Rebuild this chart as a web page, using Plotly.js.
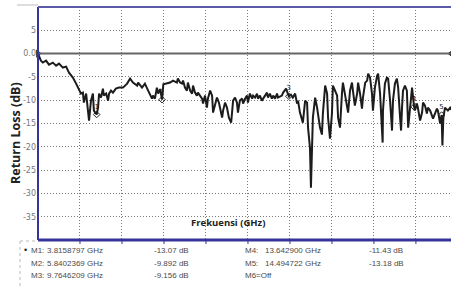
<!DOCTYPE html>
<html>
<head>
<meta charset="utf-8">
<script src="https://cdn.plot.ly/plotly-3.0.1.min.js"></script>
<style>html,body{margin:0;padding:0;background:#fff;}#chart{width:451px;height:289px;}</style>
</head>
<body>
<div id="chart"></div>
<script>
// Frequency (GHz) and return loss (dB)
var freq = [2.00,2.09,2.15,2.25,2.34,2.46,2.56,2.65,2.77,2.87,2.96,3.08,3.18,3.27,3.33,3.39,3.42,3.49,3.55,3.58,3.64,3.70,3.73,3.816,3.86,3.89,3.95,4.01,4.04,4.11,4.17,4.20,4.26,4.32,4.41,4.51,4.63,4.76,4.85,4.94,5.07,5.10,5.22,5.31,5.41,5.53,5.56,5.62,5.68,5.72,5.78,5.84,5.88,5.99,6.09,6.18,6.30,6.33,6.40,6.46,6.49,6.55,6.61,6.64,6.71,6.77,6.80,6.86,6.92,6.95,7.08,7.11,7.17,7.23,7.26,7.33,7.39,7.42,7.48,7.54,7.60,7.70,7.73,7.79,7.85,7.91,7.98,8.04,8.10,8.16,8.19,8.25,8.32,8.35,8.41,8.47,8.50,8.56,8.63,8.66,8.72,8.78,8.81,8.87,8.93,8.97,9.03,9.09,9.12,9.18,9.24,9.28,9.34,9.40,9.43,9.55,9.59,9.68,9.765,9.83,9.89,9.96,10.02,10.05,10.11,10.17,10.20,10.27,10.33,10.36,10.42,10.45,10.48,10.51,10.58,10.64,10.73,10.79,10.82,10.89,10.95,10.98,11.04,11.10,11.13,11.26,11.29,11.35,11.41,11.44,11.50,11.57,11.60,11.66,11.72,11.75,11.81,11.88,11.91,11.97,12.03,12.06,12.13,12.19,12.22,12.28,12.34,12.37,12.43,12.50,12.53,12.59,12.65,12.67,12.68,12.74,12.80,12.84,12.90,12.96,12.99,13.05,13.11,13.15,13.21,13.24,13.27,13.30,13.36,13.42,13.46,13.52,13.58,13.643,13.67,13.73,13.76,13.83,13.89,13.92,13.98,14.04,14.07,14.14,14.20,14.23,14.29,14.35,14.38,14.45,14.495,14.52,14.55,14.60,14.69,14.76,14.82];
var returnLoss = [0.0,-1.50,-1.93,-1.50,-2.36,-1.93,-2.58,-2.15,-3.00,-2.79,-4.08,-5.15,-6.44,-7.94,-8.58,-8.37,-10.52,-8.58,-13.30,-14.38,-10.09,-8.58,-12.23,-13.07,-11.59,-8.58,-9.44,-7.51,-9.01,-8.58,-10.09,-8.58,-7.94,-8.37,-7.51,-7.30,-7.30,-6.44,-5.36,-6.22,-6.87,-6.22,-7.30,-6.44,-7.94,-9.66,-9.01,-9.66,-7.30,-8.58,-7.60,-9.89,-6.60,-6.44,-6.22,-5.79,-6.22,-5.36,-6.22,-6.44,-5.79,-7.30,-7.94,-6.22,-7.94,-8.58,-6.87,-8.37,-9.01,-8.37,-9.66,-10.73,-9.01,-11.59,-9.66,-7.94,-9.01,-12.66,-11.16,-9.44,-10.52,-13.73,-12.23,-10.52,-11.59,-13.73,-14.81,-10.09,-9.44,-10.52,-12.66,-10.09,-9.66,-10.73,-9.66,-9.01,-10.52,-8.58,-9.66,-9.01,-9.44,-8.58,-9.66,-9.01,-10.09,-9.66,-9.01,-8.37,-9.44,-8.58,-9.66,-9.01,-9.66,-8.58,-9.44,-9.01,-8.37,-7.50,-9.16,-8.80,-9.44,-8.58,-10.73,-10.09,-12.66,-14.38,-14.81,-10.09,-10.52,-15.88,-20.17,-28.76,-20.17,-13.73,-9.44,-11.59,-15.88,-17.38,-12.88,-6.87,-8.58,-13.73,-18.24,-12.88,-6.87,-9.01,-13.73,-15.88,-8.58,-6.22,-8.58,-11.80,-12.66,-7.94,-6.22,-7.94,-11.16,-8.58,-6.22,-8.58,-11.80,-9.44,-6.22,-5.79,-4.29,-5.15,-8.58,-12.23,-7.30,-4.72,-4.29,-8.58,-15.88,-19.10,-12.23,-6.44,-5.15,-5.36,-10.09,-16.52,-10.09,-6.44,-5.36,-7.30,-13.73,-16.52,-11.59,-7.94,-6.87,-7.94,-15.88,-11.59,-7.30,-11.43,-12.23,-10.73,-11.59,-14.38,-12.66,-10.52,-11.16,-12.88,-11.59,-12.23,-13.30,-13.95,-12.88,-11.80,-12.23,-15.02,-13.18,-19.74,-13.73,-11.59,-12.23,-11.59,-12.20];

// Markers
var markerFreq = [3.8158797, 5.8402369, 9.7646209, 13.6429, 14.494722];
var markerRL = [-13.07, -9.892, -9.156, -11.43, -13.18];
var markerLabels = ["1", "2", "3", "4", "5"];

// Y ticks
var yTickVals = [5, 0, -5, -10, -15, -20, -25, -30, -35];
var yTickText = ["5", "0.0", "-5", "-10", "-15", "-20", "-25", "-30", "-35"];

// X grid
var xGridVals = [3.3, 4.6, 5.9, 7.2, 8.5, 9.8, 11.1, 12.4, 13.7];

// Marker table
var tableNames1 = ["M1:", "M2:", "M3:"];
var tableFreq1 = ["3.8158797 GHz", "5.8402369 GHz", "9.7646209 GHz"];
var tableVal1 = ["-13.07 dB", "-9.892 dB", "-9.156 dB"];
var tableNames2 = ["M4:", "M5:", "M6=Off"];
var tableFreq2 = ["13.642900 GHz", "14.494722 GHz", ""];
var tableVal2 = ["-11.43 dB", "-13.18 dB", ""];

var X0 = 2, X1 = 14.786;
var W = 413, H = 233;
function px2paperX(px){ return (px - 38) / W; }
function py2paperY(py){ return (240 - py) / H; }

var traces = [
  {x: freq, y: returnLoss, type: 'scatter', mode: 'lines',
   line: {color: '#1c1c1c', width: 2}, hoverinfo: 'skip'},
  {x: markerFreq, y: markerRL, type: 'scatter', mode: 'markers+text',
   text: markerLabels, textposition: 'top center',
   textfont: {family: 'DejaVu Sans', size: 7, color: '#222'},
   marker: {symbol: 'diamond-open', size: 5, color: '#222', line: {width: 1}},
   cliponaxis: false},
  {x: [X0, X1], y: [0, 0], type: 'scatter', mode: 'markers',
   marker: {symbol: ['triangle-right', 'triangle-left'], size: 7, color: '#111'},
   cliponaxis: false}
];

var annotations = [];
var rowsY = [250, 263, 275];
var tf = {family: 'Liberation Sans', size: 8, color: '#4a4a4a'};
for (var i = 0; i < 3; i++) {
  var yy = py2paperY(rowsY[i]);
  var cols = [[29, tableNames1[i]], [45, tableFreq1[i]], [152, tableVal1[i]],
              [243, tableNames2[i]], [263, tableFreq2[i]], [367, tableVal2[i]]];
  cols.forEach(function(c){
    if (c[1]) annotations.push({xref: 'paper', yref: 'paper', x: px2paperX(c[0]), y: yy,
      xanchor: 'left', yanchor: 'middle', showarrow: false, text: c[1], font: tf});
  });
}
// bullet in front of M1
annotations.push({xref: 'paper', yref: 'paper', x: px2paperX(29), y: py2paperY(250),
  xanchor: 'right', yanchor: 'middle', showarrow: false, text: '\u2022',
  font: {family: 'Liberation Sans', size: 9, color: '#222'}});
annotations.push({xref: 'paper', yref: 'paper', x: px2paperX(15), y: py2paperY(133),
  xanchor: 'center', yanchor: 'middle', textangle: -90, showarrow: false,
  text: '<b>Return Loss (dB)</b>', font: {family: 'Open Sans', size: 12.5, color: '#222'}});
annotations.push({xref: 'paper', yref: 'paper', x: px2paperX(228), y: py2paperY(222),
  xanchor: 'center', yanchor: 'middle', showarrow: false,
  text: '<b>Frekuensi (GHz)</b>', font: {family: 'Open Sans', size: 9.5, color: '#222'}});

var shapes = [
  // zero reference line
  {type: 'line', xref: 'paper', yref: 'y', x0: 0, x1: 1, y0: 0, y1: 0, line: {color: '#666', width: 2}},
  // frame
  {type: 'line', xref: 'paper', yref: 'paper', x0: 0, x1: 0, y0: 0, y1: 1, line: {color: '#34349a', width: 2}},
  {type: 'line', xref: 'paper', yref: 'paper', x0: 0, x1: 1, y0: 1, y1: 1, line: {color: '#5a5aa8', width: 2}},
  {type: 'line', xref: 'paper', yref: 'paper', x0: 0, x1: 1, y0: 0, y1: 0, line: {color: '#34349a', width: 3}},
  // top-left grey line
  {type: 'line', xref: 'paper', yref: 'paper', x0: px2paperX(17), x1: 0, y0: py2paperY(5), y1: py2paperY(5), line: {color: '#bbb', width: 1}},
  // marker-table dotted box
  {type: 'line', xref: 'paper', yref: 'paper', x0: px2paperX(20), x1: 0, y0: py2paperY(241), y1: py2paperY(241), line: {color: '#bbb', width: 1, dash: 'dot'}},
  {type: 'line', xref: 'paper', yref: 'paper', x0: px2paperX(20), x1: px2paperX(20), y0: py2paperY(241), y1: py2paperY(289), line: {color: '#bbb', width: 1, dash: 'dot'}}
];
// small ticks below bottom frame at grid positions
xGridVals.forEach(function(v){
  shapes.push({type: 'line', xref: 'x', yref: 'paper', x0: v, x1: v, y0: 0, y1: py2paperY(244), line: {color: '#34349a', width: 1}});
});

var layout = {
  width: 451, height: 289,
  margin: {l: 38, r: 0, t: 7, b: 49, pad: 0},
  paper_bgcolor: '#fff', plot_bgcolor: '#fff',
  showlegend: false,
  xaxis: {range: [X0, X1], tickvals: xGridVals, showticklabels: false, ticks: '',
          showgrid: true, gridcolor: '#7a7a7a', griddash: '1px,2px', gridwidth: 1,
          zeroline: false, showline: false, fixedrange: true},
  yaxis: {range: [-40, 10], tickvals: yTickVals, ticktext: yTickText, ticks: '',
          tickfont: {family: 'DejaVu Sans', size: 8, color: '#777'},
          showgrid: true, gridcolor: '#7a7a7a', griddash: '1px,2px', gridwidth: 1,
          zeroline: false, showline: false, fixedrange: true, ticklabelstandoff: 1},
  annotations: annotations,
  shapes: shapes
};

Plotly.newPlot('chart', traces, layout, {displayModeBar: false, staticPlot: true});
</script>
</body>
</html>
